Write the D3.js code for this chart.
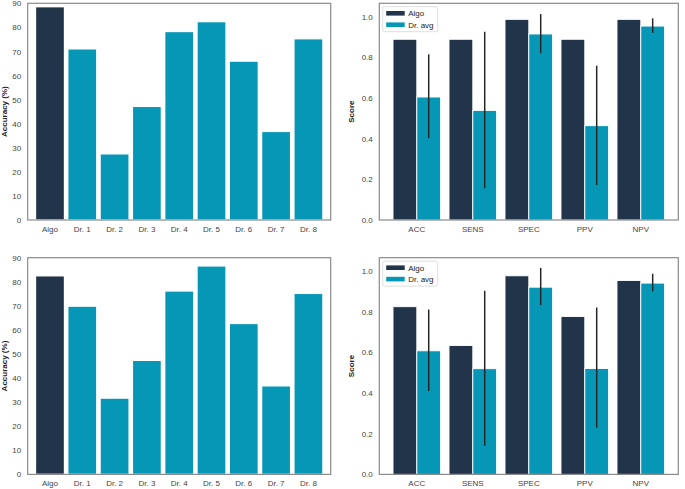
<!DOCTYPE html>
<html>
<head>
<meta charset="utf-8">
<script src="https://cdn.jsdelivr.net/npm/d3@7"></script>
<style>
  body { margin: 0; background: #fff; }
  svg { display: block; font-family: "Liberation Sans", Arial, sans-serif; }
</style>
</head>
<body>
<svg id="chart" width="685" height="489"></svg>
<script>
// readers (algorithm + 8 doctors)
var readers = ['Algo', 'Dr. 1', 'Dr. 2', 'Dr. 3', 'Dr. 4', 'Dr. 5', 'Dr. 6', 'Dr. 7', 'Dr. 8'];
var accuracyTop = [88.6, 71.1, 27.5, 47.2, 78.3, 82.4, 66.0, 36.8, 75.3];
var accuracyBottom = [82.5, 69.9, 31.7, 47.4, 76.2, 86.6, 62.7, 36.8, 75.2];
var accuracyTicks = [0, 10, 20, 30, 40, 50, 60, 70, 80, 90];

// metrics
var metrics = ['ACC', 'SENS', 'SPEC', 'PPV', 'NPV'];
var algoTop = [0.889, 0.889, 0.987, 0.889, 0.987];
var drTop = [0.605, 0.539, 0.915, 0.464, 0.954];
var drLowTop = [0.402, 0.156, 0.820, 0.172, 0.921];
var drHighTop = [0.815, 0.926, 1.013, 0.759, 0.992];
var algoBottom = [0.825, 0.634, 0.977, 0.777, 0.954];
var drBottom = [0.608, 0.520, 0.921, 0.521, 0.941];
var drLowBottom = [0.410, 0.141, 0.833, 0.230, 0.900];
var drHighBottom = [0.811, 0.903, 1.016, 0.821, 0.987];
var scoreTicks = [0, 0.2, 0.4, 0.6, 0.8, 1.0];
var seriesNames = ['Algo', 'Dr. avg'];

var DARK = '#22344a';
var TEAL = '#0797b6';

var svg = d3.select('#chart');

function frame(g, w, h) {
  g.append('rect')
    .attr('x', 0).attr('y', 0)
    .attr('width', w).attr('height', h)
    .attr('fill', 'none')
    .attr('stroke', '#8a8a8a')
    .attr('stroke-width', 1.2);
}

function yAxis(g, y, ticks, fmt, label, h) {
  var ax = g.append('g')
    .call(d3.axisLeft(y).tickValues(ticks).tickSize(0).tickPadding(6.5).tickFormat(fmt));
  ax.select('.domain').remove();
  ax.selectAll('text').attr('font-size', 8).attr('fill', '#444').attr('font-family', 'Liberation Sans, Arial, sans-serif');
  g.append('text')
    .attr('transform', 'translate(' + label.x + ',' + (h / 2) + ') rotate(-90)')
    .attr('text-anchor', 'middle')
    .attr('font-size', 8)
    .attr('font-weight', 'bold')
    .attr('fill', '#222')
    .text(label.text);
}

function xLabels(g, x, names, h) {
  g.selectAll('.xl')
    .data(names)
    .enter()
    .append('text')
    .attr('class', 'xl')
    .attr('x', function (d, i) { return x(i); })
    .attr('y', h + 12)
    .attr('text-anchor', 'middle')
    .attr('font-size', 8)
    .attr('fill', '#444')
    .text(function (d) { return d; });
}

function drawAccuracy(left, top, values) {
  var w = 303, h = 216.7;
  var g = svg.append('g').attr('transform', 'translate(' + left + ',' + top + ')');
  var x = d3.scaleLinear().domain([-0.69, 8.69]).range([0, w]);
  var y = d3.scaleLinear().domain([0, 90]).range([h, 0]);
  var bw = 0.9;

  g.selectAll('.bar')
    .data(values)
    .enter()
    .append('rect')
    .attr('class', 'bar')
    .attr('x', function (d, i) { return x(i - bw / 2); })
    .attr('width', x(bw) - x(0))
    .attr('y', function (d) { return y(d); })
    .attr('height', function (d) { return y(0) - y(d); })
    .attr('fill', function (d, i) { return i === 0 ? DARK : TEAL; })
    .attr('stroke', '#fff')
    .attr('stroke-width', 1.4);

  frame(g, w, h);
  yAxis(g, y, accuracyTicks, d3.format('d'), { x: -21, text: 'Accuracy (%)' }, h);
  xLabels(g, x, readers, h);
}

function drawScores(left, top, algo, dr, lo, hi) {
  var w = 299, h = 216.7;
  var g = svg.append('g').attr('transform', 'translate(' + left + ',' + top + ')');
  var x = d3.scaleLinear().domain([-0.67, 4.67]).range([0, w]);
  var y = d3.scaleLinear().domain([0, 1.066]).range([h, 0]);
  var bw = 0.425;

  var series = [algo, dr];
  series.forEach(function (vals, s) {
    g.selectAll('.bar' + s)
      .data(vals)
      .enter()
      .append('rect')
      .attr('class', 'bar' + s)
      .attr('x', function (d, i) { return x(i - bw + s * bw); })
      .attr('width', x(bw) - x(0))
      .attr('y', function (d) { return y(d); })
      .attr('height', function (d) { return y(0) - y(d); })
      .attr('fill', s === 0 ? DARK : TEAL)
      .attr('stroke', '#fff')
      .attr('stroke-width', 0.9);
  });

  // error bars on the doctor average
  g.selectAll('.err')
    .data(lo)
    .enter()
    .append('line')
    .attr('class', 'err')
    .attr('x1', function (d, i) { return x(i + bw / 2); })
    .attr('x2', function (d, i) { return x(i + bw / 2); })
    .attr('y1', function (d) { return y(d); })
    .attr('y2', function (d, i) { return y(hi[i]); })
    .attr('stroke', '#262626')
    .attr('stroke-width', 1.5);

  frame(g, w, h);
  yAxis(g, y, scoreTicks, d3.format('.1f'), { x: -25, text: 'Score' }, h);
  xLabels(g, x, metrics, h);

  // legend
  var lg = g.append('g').attr('transform', 'translate(3.4,3.4)');
  lg.append('rect')
    .attr('width', 55).attr('height', 25)
    .attr('rx', 2)
    .attr('fill', '#fff')
    .attr('stroke', '#d6d6d6')
    .attr('stroke-width', 0.8);
  seriesNames.forEach(function (name, i) {
    lg.append('rect')
      .attr('x', 3.5).attr('y', 4.3 + i * 11.4)
      .attr('width', 18.5).attr('height', 4.6)
      .attr('fill', i === 0 ? DARK : TEAL);
    lg.append('text')
      .attr('x', 25.5).attr('y', 9.5 + i * 11.4)
      .attr('font-size', 8)
      .attr('fill', '#222')
      .text(name);
  });
}

drawAccuracy(27.7, 3.3, accuracyTop);
drawScores(379.3, 3.3, algoTop, drTop, drLowTop, drHighTop);
drawAccuracy(27.7, 257.7, accuracyBottom);
drawScores(379.3, 257.7, algoBottom, drBottom, drLowBottom, drHighBottom);
</script>
</body>
</html>
